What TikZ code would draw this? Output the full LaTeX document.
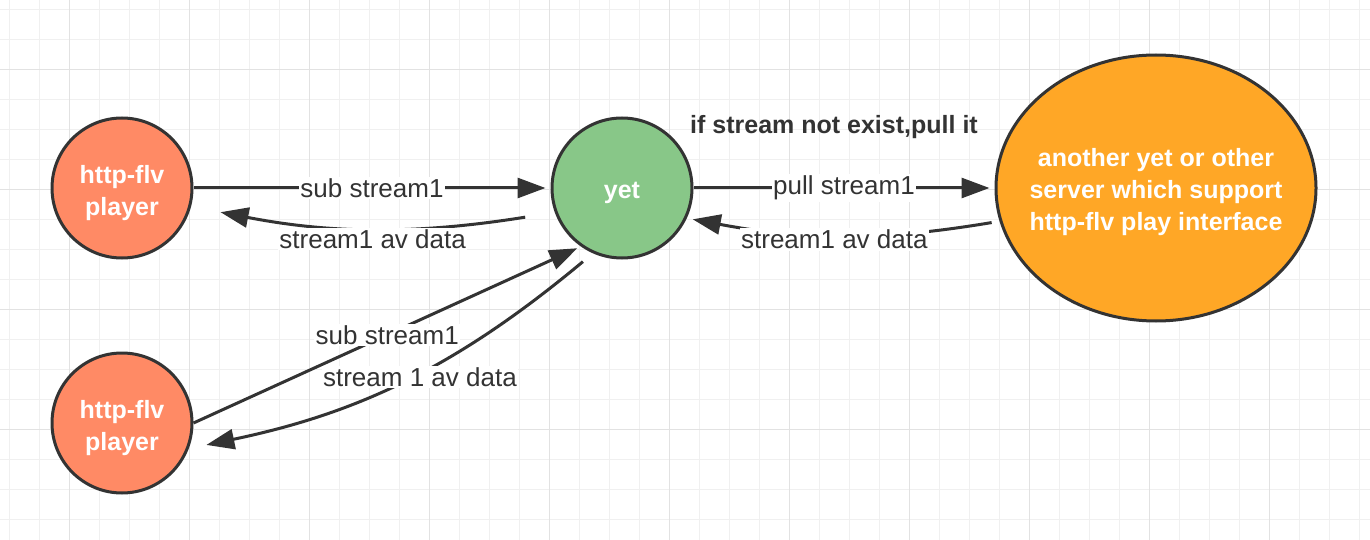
\documentclass[tikz,border=0pt]{standalone}
\usepackage{fontspec}
\setmainfont{Liberation Sans}
\usetikzlibrary{arrows.meta,shapes.geometric}

\definecolor{linecol}{RGB}{51,51,51}
\definecolor{playercol}{RGB}{255,138,101}
\definecolor{yetcol}{RGB}{136,199,136}
\definecolor{servercol}{RGB}{255,167,38}
\definecolor{minorcol}{RGB}{240,240,240}
\definecolor{majorcol}{RGB}{226,226,226}

\begin{document}
\begin{tikzpicture}[x=1pt,y=1pt]
  \tikzset {
    peer/.style={
      circle,
      draw=linecol,
      line width=3pt,
      minimum size=140pt,
      inner sep=0pt,
      text=white,
      align=center,
      font=\fontsize{25}{30}\selectfont\bfseries
    },
    player/.style={peer, fill=playercol},
    yetnode/.style={peer, fill=yetcol},
    server/.style={
      peer,
      ellipse,
      fill=servercol,
      inner xsep=-17pt,
      minimum width=320pt,
      minimum height=266pt,
      font=\fontsize{25}{31.5}\selectfont\bfseries
    },
    flow/.style={
      draw=linecol,
      line width=3pt,
      -{Triangle[length=28pt,width=20pt]}
    },
    lbl/.style={
      fill=white,
      text=linecol,
      inner sep=1.5pt,
      font=\fontsize{26}{30}\selectfont
    },
    cond/.style={
      text=linecol,
      font=\fontsize{25}{30}\selectfont\bfseries
    }
  }
  \useasboundingbox (0,0) rectangle (1370,-540);
  \fill[white] (0,0) rectangle (1370,-540);

  % grid
  \foreach \i in {0,...,45}
    \draw[minorcol, line width=1.3pt] (9.3+30*\i,0) -- (9.3+30*\i,-540);
  \foreach \i in {0,...,17}
    \draw[minorcol, line width=1.3pt] (0,-9.3-30*\i) -- (1370,-9.3-30*\i);
  \foreach \i in {0,...,10}
    \draw[majorcol, line width=1.5pt] (69.3+120*\i,0) -- (69.3+120*\i,-540);
  \foreach \i in {0,...,3}
    \draw[majorcol, line width=1.5pt] (0,-69.3-120*\i) -- (1370,-69.3-120*\i);

  \node[player](player1) at (122,-188) {\raisebox{-5pt}[\height][\depth]{\shortstack{http-flv\\[5pt]player}}};
  \node[yetnode, right of=player1, node distance=500pt](yet) {\raisebox{-5pt}[\height][\depth]{yet}};
  \node[player, below of=player1, node distance=235pt](player2) {\raisebox{-5pt}[\height][\depth]{\shortstack{http-flv\\[5pt]player}}};
  \node[server, right of=yet, node distance=534pt](server) {\raisebox{-4pt}[\height][\depth]{\shortstack{another yet or other\\[6pt]server which support\\[6pt]http-flv play interface}}};

  \path (player1) edge[flow, shorten >=5pt] node[lbl]{sub stream1} (yet);
  \path (yet.200) edge[flow, bend left=10, shorten <=30pt, shorten >=30pt] node[lbl, yshift=-11pt]{stream1 av data} (player1.345);
  \path (yet) edge[flow, shorten >=5pt] node[lbl]{pull stream1} node[cond, xshift=-10pt, yshift=61pt]{if stream not exist,pull it} (server);
  \path (server.192) edge[flow, bend left=10, shorten <=8pt, shorten >=6pt] node[lbl, pos=0.53, yshift=-4pt]{stream1 av data} (yet.335);
  \path (player2.east) edge[flow, shorten >=4pt] node[lbl]{sub stream1} (yet.235);
  \path (yet.246) edge[flow, bend left=14, shorten <=13pt, shorten >=18pt] node[lbl, pos=0.47, xshift=4pt, yshift=-3pt]{stream 1 av data} (player2.339);

\end{tikzpicture}
\end{document}
